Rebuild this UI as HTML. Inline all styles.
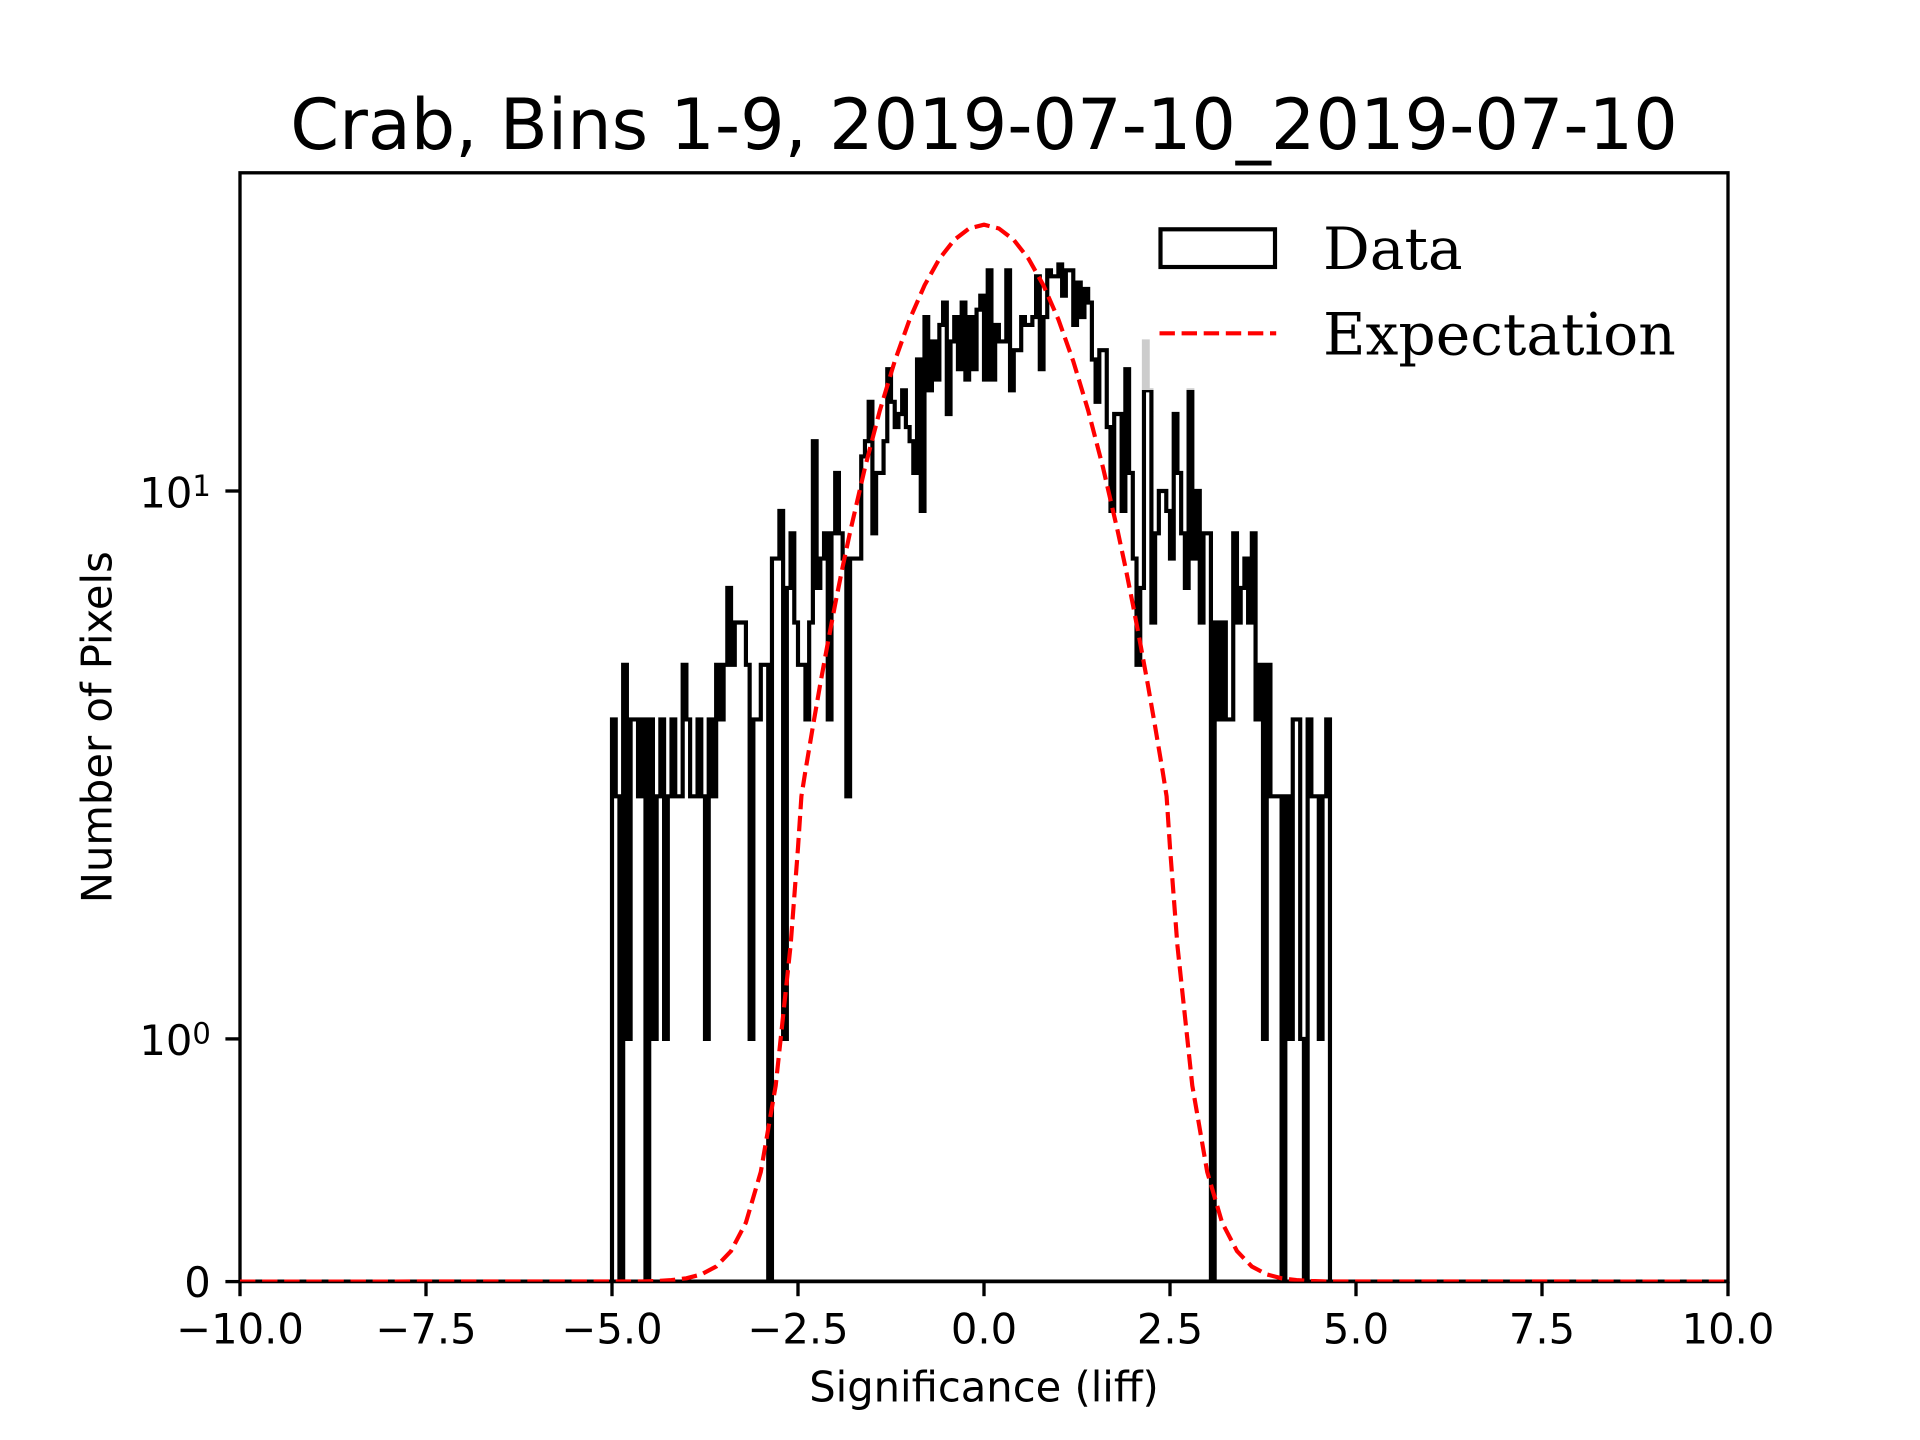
<!DOCTYPE html>
<html>
<head>
<meta charset="utf-8">
<style>
  html, body { margin: 0; padding: 0; background: #ffffff; }
  svg { display: block; }
  .sans { font-family: "DejaVu Sans", "Liberation Sans", sans-serif; }
  .serif { font-family: "DejaVu Serif", "Liberation Serif", serif; }
</style>
</head>
<body>
<svg width="1920" height="1440" viewBox="0 0 1920 1440" xmlns="http://www.w3.org/2000/svg">
  <rect x="0" y="0" width="1920" height="1440" fill="#ffffff"/>
  <defs>
    <clipPath id="ax">
      <rect x="240" y="172.8" width="1488" height="1108.8"/>
    </clipPath>
  </defs>

  <!-- axes spines -->
  <rect x="240" y="172.8" width="1488" height="1108.8" fill="none" stroke="#000" stroke-width="3.33"/>

  <g clip-path="url(#ax)">
    <!-- baseline of histogram -->
    <line x1="240" y1="1281.6" x2="1728" y2="1281.6" stroke="#000" stroke-width="4.17"/>
    <!-- Data histogram (step) -->
    <path fill="none" stroke="#000" stroke-width="4.17" stroke-linejoin="miter" d="M612,1281.6 V719.4 H615.72 V796.3 H619.44 V1281.6 H623.16 V664.8 H626.88 V1038.9 H630.6 V719.4 H638.04 V796.3 H641.76 V719.4 H645.48 V1281.6 H649.2 V719.4 H652.92 V1038.9 H656.64 V796.3 H660.36 V719.4 H664.08 V1038.9 H667.8 V796.3 H671.52 V719.4 H675.24 V796.3 H682.68 V664.8 H686.4 V719.4 H690.12 V796.3 H697.56 V719.4 H701.28 V796.3 H705 V1038.9 H708.72 V719.4 H712.44 V796.3 H716.16 V664.8 H719.88 V719.4 H723.6 V664.8 H727.32 V587.9 H731.04 V664.8 H734.76 V622.5 H745.92 V664.8 H749.64 V1038.9 H753.36 V719.4 H760.8 V664.8 H768.24 V1281.6 H771.96 V558.6 H779.4 V510.9 H783.12 V1038.9 H786.84 V587.9 H790.56 V533.3 H794.28 V622.5 H798 V664.8 H805.44 V719.4 H809.16 V622.5 H812.88 V441.2 H816.6 V587.9 H820.32 V558.6 H824.04 V533.3 H827.76 V719.4 H831.48 V533.3 H835.2 V472.9 H838.92 V533.3 H842.64 V558.6 H846.36 V796.3 H850.08 V558.6 H861.24 V456.4 H864.96 V441.2 H868.68 V401.8 H872.4 V533.3 H876.12 V472.9 H883.56 V441.2 H887.28 V369.2 H891 V401.8 H894.72 V427.1 H898.44 V414 H902.16 V390.3 H905.88 V427.1 H909.6 V441.2 H913.32 V472.9 H917.04 V359.5 H920.76 V510.9 H924.48 V317.1 H928.2 V390.3 H931.92 V341.4 H935.64 V379.5 H939.36 V324.9 H943.08 V302.6 H946.8 V414 H950.52 V341.4 H954.24 V317.1 H957.96 V369.2 H961.68 V302.6 H965.4 V379.5 H969.12 V317.1 H972.84 V369.2 H976.56 V309.7 H980.28 V295.7 H984 V379.5 H987.72 V270.3 H991.44 V379.5 H995.16 V324.9 H998.88 V341.4 H1006.32 V270.3 H1010.04 V390.3 H1013.76 V350.2 H1021.2 V317.1 H1024.92 V324.9 H1032.36 V317.1 H1036.08 V276.3 H1039.8 V369.2 H1043.52 V317.1 H1047.24 V270.3 H1050.96 V276.3 H1058.4 V264.5 H1062.12 V295.7 H1065.84 V270.3 H1073.28 V324.9 H1077 V282.6 H1080.72 V317.1 H1084.44 V289 H1088.16 V302.6 H1091.88 V359.5 H1095.6 V401.8 H1099.32 V350.2 H1106.76 V427.1 H1110.48 V510.9 H1114.2 V414 H1121.64 V510.9 H1125.36 V369.2 H1129.08 V472.9 H1132.8 V558.6 H1136.52 V664.8 H1140.24 V587.9 H1143.96 V341.4 H1147.68 V390.3 H1151.4 V622.5 H1155.12 V533.3 H1158.84 V491 H1166.28 V510.9 H1170 V558.6 H1173.72 V414 H1177.44 V472.9 H1181.16 V533.3 H1184.88 V587.9 H1188.6 V390.3 H1192.32 V558.6 H1196.04 V491 H1199.76 V622.5 H1203.48 V533.3 H1210.92 V1281.6 H1214.64 V622.5 H1218.36 V719.4 H1222.08 V622.5 H1225.8 V719.4 H1233.24 V533.3 H1236.96 V622.5 H1240.68 V587.9 H1244.4 V558.6 H1248.12 V622.5 H1251.84 V533.3 H1255.56 V719.4 H1259.28 V664.8 H1263 V1038.9 H1266.72 V664.8 H1270.44 V796.3 H1281.6 V1281.6 H1285.32 V796.3 H1289.04 V1038.9 H1292.76 V719.4 H1300.2 V1038.9 H1303.92 V1281.6 H1307.64 V719.4 H1311.36 V796.3 H1318.8 V1038.9 H1322.52 V796.3 H1326.24 V719.4 H1329.96 V1281.6"/>

    <!-- Expectation curve -->
    <polyline fill="none" stroke="#ff0000" stroke-width="4.17" stroke-dasharray="15.4 6.7" stroke-linejoin="round" stroke-linecap="butt"
      points="240,1281.6 641.8,1281.4 656.6,1281.0 671.5,1280.1 686.4,1278.3 701.3,1274.4 716.2,1266.5 731.0,1251.1 745.9,1222.6 760.8,1171.9 775.7,1085.6 790.6,945.3 798,847.7 801.4,796.3 805.4,771.0 812.9,726.4 820.3,683.8 827.8,643.0 835.2,604.1 842.6,567.1 850.1,532.0 865.0,467.5 879.8,410.6 894.7,361.3 909.6,319.5 924.5,285.4 939.4,258.8 954.2,239.9 969.1,228.5 984,224.7 998.9,228.5 1013.8,239.9 1028.6,258.8 1043.5,285.4 1058.4,319.5 1073.3,361.3 1088.2,410.6 1103.0,467.5 1117.9,532.0 1125.4,567.1 1132.8,604.1 1140.2,643.0 1147.7,683.8 1155.1,726.4 1162.6,771.0 1166.6,796.3 1170,847.7 1177.4,945.3 1192.3,1085.6 1207.2,1171.9 1222.1,1222.6 1237.0,1251.1 1251.8,1266.5 1266.7,1274.4 1281.6,1278.3 1296.5,1280.1 1311.4,1281.0 1326.2,1281.4 1728,1281.6"/>
  </g>

  <!-- legend background (semi-transparent, no visible edge) -->
  <rect x="1135" y="202" width="564" height="188" fill="#ffffff" fill-opacity="0.8"/>

  <!-- legend entries -->
  <rect x="1160.5" y="229.3" width="114.5" height="37.7" fill="none" stroke="#000" stroke-width="4.17"/>
  <text class="serif" x="1323" y="269" font-size="58.3" fill="#000">Data</text>
  <line x1="1159.5" y1="333.3" x2="1276.2" y2="333.3" stroke="#ff0000" stroke-width="4.17" stroke-dasharray="15.4 6.7"/>
  <text class="serif" x="1323" y="354.3" font-size="58.3" fill="#000">Expectation</text>

  <!-- x ticks -->
  <g stroke="#000" stroke-width="3.33">
    <line x1="240" y1="1281.6" x2="240" y2="1296.2"/>
    <line x1="426" y1="1281.6" x2="426" y2="1296.2"/>
    <line x1="612" y1="1281.6" x2="612" y2="1296.2"/>
    <line x1="798" y1="1281.6" x2="798" y2="1296.2"/>
    <line x1="984" y1="1281.6" x2="984" y2="1296.2"/>
    <line x1="1170" y1="1281.6" x2="1170" y2="1296.2"/>
    <line x1="1356" y1="1281.6" x2="1356" y2="1296.2"/>
    <line x1="1542" y1="1281.6" x2="1542" y2="1296.2"/>
    <line x1="1728" y1="1281.6" x2="1728" y2="1296.2"/>
    <!-- y ticks -->
    <line x1="240" y1="1281.6" x2="225.4" y2="1281.6"/>
    <line x1="240" y1="1038.9" x2="225.4" y2="1038.9"/>
    <line x1="240" y1="491.0" x2="225.4" y2="491.0"/>
  </g>

  <!-- x tick labels -->
  <g class="sans" font-size="41.67" fill="#000" text-anchor="middle">
    <text x="240" y="1343.3">−10.0</text>
    <text x="426" y="1343.3">−7.5</text>
    <text x="612" y="1343.3">−5.0</text>
    <text x="798" y="1343.3">−2.5</text>
    <text x="984" y="1343.3">0.0</text>
    <text x="1170" y="1343.3">2.5</text>
    <text x="1356" y="1343.3">5.0</text>
    <text x="1542" y="1343.3">7.5</text>
    <text x="1728" y="1343.3">10.0</text>
  </g>

  <!-- y tick labels -->
  <g class="sans" font-size="41.67" fill="#000" text-anchor="end">
    <text x="210.8" y="1297">0</text>
    <text x="210.8" y="1055.2">10<tspan font-size="29" dy="-11.5">0</tspan></text>
    <text x="210.8" y="507.6">10<tspan font-size="29" dy="-11.5">1</tspan></text>
  </g>

  <!-- axis labels -->
  <text class="sans" x="984" y="1401.7" font-size="41.67" text-anchor="middle" fill="#000">Significance (liff)</text>
  <text class="sans" x="0" y="0" font-size="41.67" text-anchor="middle" fill="#000" transform="translate(111.7,727.2) rotate(-90)">Number of Pixels</text>

  <!-- title -->
  <text class="sans" x="984" y="149" font-size="70" text-anchor="middle" fill="#000">Crab, Bins 1-9, 2019-07-10_2019-07-10</text>
</svg>
</body>
</html>
